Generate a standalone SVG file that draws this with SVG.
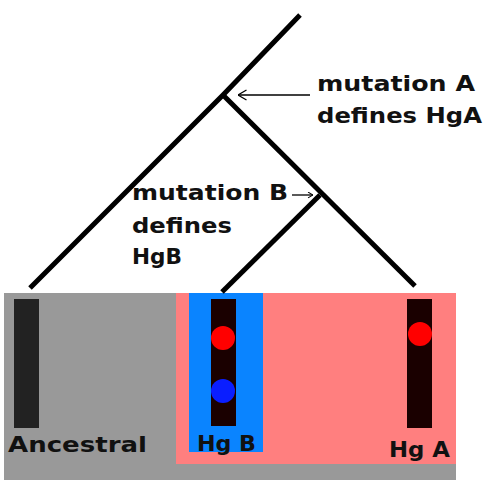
<svg xmlns="http://www.w3.org/2000/svg" width="487" height="491" viewBox="0 0 487 491">
<defs>
<style>
.lbl{font-family:"DejaVu Sans","Liberation Sans",sans-serif;font-weight:bold;fill:#111;}
.branch{stroke:#000;stroke-width:5;fill:none;stroke-linecap:butt;}
.pointer{stroke:#000;stroke-width:1.3;fill:none;}
.bar{stroke:none;}
</style>
<marker id="ahA" viewBox="0 0 10 12" refX="9.5" refY="6" markerWidth="10" markerHeight="12" markerUnits="userSpaceOnUse" orient="auto">
<path d="M1,1 L9.5,6 L1,11" fill="none" stroke="#000" stroke-width="1.3"/>
</marker>
<marker id="ahB" viewBox="0 0 10 12" refX="9.5" refY="6" markerWidth="6" markerHeight="7" markerUnits="userSpaceOnUse" orient="auto">
<path d="M1,1 L9.5,6 L1,11" fill="none" stroke="#000" stroke-width="1.8"/>
</marker>
</defs>
<rect width="487" height="491" fill="#fff"/>
<g id="background">
<rect x="4" y="293" width="452" height="187" fill="#999999"/>
<rect x="176" y="293" width="280" height="171" fill="#ff7f7f"/>
<rect x="189" y="293" width="74" height="159" fill="#0a84ff"/>
</g>
<g id="connectors">
<polyline class="branch" points="300,15 223,95 30,288"/>
<polyline class="branch" points="223,95 415,286"/>
<polyline class="branch" points="320,195 222,292"/>
<line class="pointer" x1="310" y1="95" x2="238" y2="95" marker-end="url(#ahA)"/>
<line class="pointer" x1="292" y1="195" x2="313" y2="195" marker-end="url(#ahB)"/>
</g>
<g id="node-ancestral">
<rect class="bar" x="14" y="299" width="25" height="129" fill="#222222"/>
<text class="lbl" x="8" y="452" font-size="22" textLength="139" lengthAdjust="spacingAndGlyphs">Ancestral</text>
</g>
<g id="node-hgb">
<rect class="bar" x="211" y="299" width="25" height="127" fill="#1a0000"/>
<circle cx="223" cy="338" r="12" fill="#ff0000"/>
<circle cx="223" cy="391" r="12" fill="#0a1eff"/>
<text class="lbl" x="197" y="451" font-size="21" textLength="59" lengthAdjust="spacingAndGlyphs">Hg B</text>
</g>
<g id="node-hga">
<rect class="bar" x="407" y="299" width="25" height="129" fill="#1a0000"/>
<circle cx="420" cy="334" r="12" fill="#ff0000"/>
<text class="lbl" x="389" y="457" font-size="21" textLength="61" lengthAdjust="spacingAndGlyphs">Hg A</text>
</g>
<g id="label-mutation-a">
<text class="lbl" x="317" y="91" font-size="21" textLength="158" lengthAdjust="spacingAndGlyphs">mutation A</text>
<text class="lbl" x="317" y="123" font-size="21" textLength="165" lengthAdjust="spacingAndGlyphs">defines HgA</text>
</g>
<g id="label-mutation-b">
<text class="lbl" x="132" y="200" font-size="21" textLength="156" lengthAdjust="spacingAndGlyphs">mutation B</text>
<text class="lbl" x="132" y="233" font-size="21" textLength="100" lengthAdjust="spacingAndGlyphs">defines</text>
<text class="lbl" x="132" y="264" font-size="21" textLength="50" lengthAdjust="spacingAndGlyphs">HgB</text>
</g>
</svg>
